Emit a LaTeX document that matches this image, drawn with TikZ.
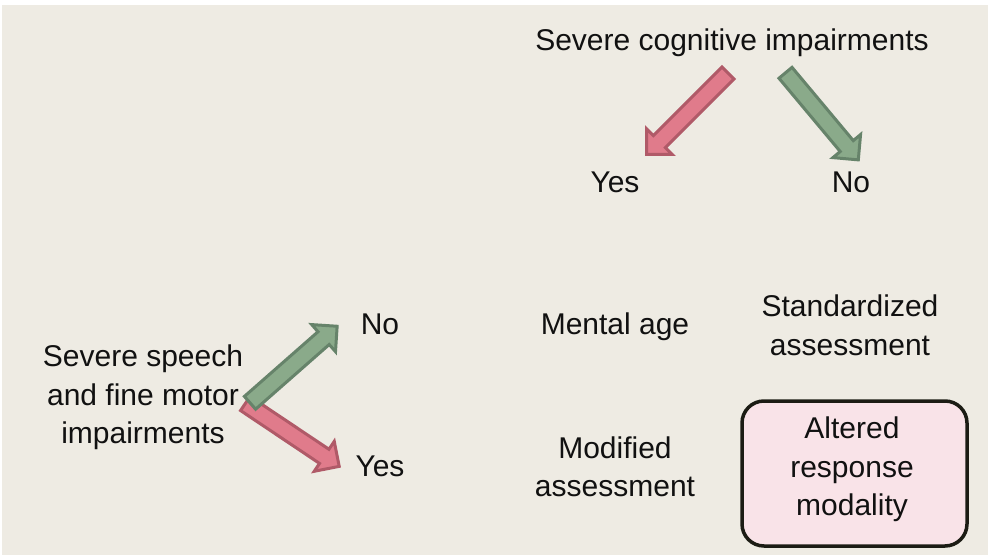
\documentclass[tikz,border=0pt]{standalone}
\usepackage{fontspec}
\setmainfont{Liberation Sans}
\definecolor{bgbeige}{HTML}{EEEBE3}
\definecolor{redfill}{HTML}{E07B8B}
\definecolor{redline}{HTML}{B05A68}
\definecolor{greenfill}{HTML}{8AAA8A}
\definecolor{greenline}{HTML}{66836A}
\definecolor{boxfill}{HTML}{F9E3E8}
\definecolor{boxline}{HTML}{1C1C14}
\definecolor{txt}{HTML}{111111}
\tikzset{
  lbl/.style={align=center, inner sep=0pt, text=txt, font=\fontsize{30}{38.5}\selectfont},
  redarrow/.style={fill=redfill, draw=redline, line width=3pt, line join=miter},
  greenarrow/.style={fill=greenfill, draw=greenline, line width=3pt, line join=miter},
  modbox/.style={draw=boxline, fill=boxfill, line width=3.5pt, rounded corners=22pt,
    minimum width=225pt, minimum height=145pt, inner sep=0pt},
}
% \blockarrow{style}{tail x}{tail y}{angle}{length}
\newcommand{\blockarrow}[5]{%
  \begin{scope}[shift={(#2,#3)}, rotate=#4, x=1pt, y=1pt]
    \draw[#1] (0,-8.5) -- (#5-18,-8.5) -- (#5-18,-18) -- (#5,0) -- (#5-18,18) -- (#5-18,8.5) -- (0,8.5) -- cycle;
  \end{scope}}
\begin{document}
\begin{tikzpicture}[x=1pt, y=-1pt]
  \useasboundingbox (0,0) rectangle (991,557);
  \fill[bgbeige] (2,5) rectangle (988,555);

  \node[lbl] (cog) at (732,43) {Severe cognitive impairments};
  \node[lbl] (yestop) at (615,182) {Yes};
  \node[lbl] (notop) at (851,182) {No};
  \node[lbl] (mental) at (615,326.5) {Mental age};
  \node[lbl] (std) at (850,325.5) {Standardized\\assessment};
  \node[lbl] (noleft) at (380,324) {No};
  \node[lbl] (speech) at (143,397.5) {Severe speech\\and fine motor\\impairments};
  \node[lbl] (yesleft) at (380,466) {Yes};
  \node[lbl] (modif) at (615,467) {Modified\\assessment};
  \node[modbox] (alteredbox) at (854.5,473.5) {};
  \node[lbl] (altered) at (852,469.5) {Altered\\response\\modality};

  \blockarrow{redarrow}{728}{73}{225}{115}
  \blockarrow{greenarrow}{785.5}{72.8}{-50.1}{113.5}
  \blockarrow{redarrow}{245.3}{403.5}{-33.8}{113}
  \blockarrow{greenarrow}{250}{402.8}{41.3}{116}
\end{tikzpicture}
\end{document}
